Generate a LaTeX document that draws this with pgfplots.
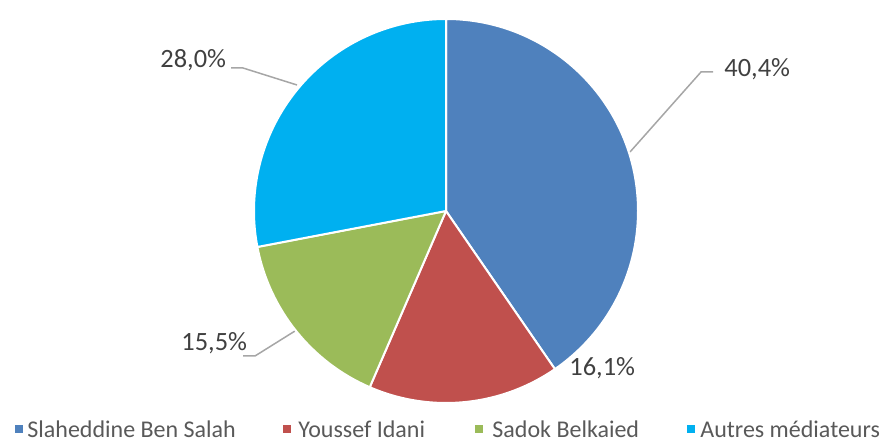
\documentclass[border=0pt]{standalone}
\usepackage{pgfplots}
\usepackage{pgfplotstable}
\pgfplotsset{compat=1.18}
\usepackage{fontspec}
\setmainfont{Carlito}
\definecolor{PBlue}{HTML}{4F81BD}
\definecolor{PRed}{HTML}{C0504D}
\definecolor{PGreen}{HTML}{9BBB59}
\definecolor{PCyan}{HTML}{00B0F0}
\definecolor{LabelInk}{HTML}{404040}
\definecolor{LegendInk}{HTML}{595959}
\definecolor{Leader}{HTML}{A6A6A6}

\pgfplotstableread{
label value color
{Slaheddine Ben Salah} 40.4 PBlue
{Youssef Idani} 16.1 PRed
{Sadok Belkaied} 15.5 PGreen
{Autres médiateurs} 28.0 PCyan
}\piedata

\begin{document}
\begin{tikzpicture}
% 1 axis unit = 1 px of the reference = 0.5pt
\begin{axis}[width=442pt,height=219.5pt,scale only axis,hide axis,clip=false,
  xmin=0,xmax=884,ymin=0,ymax=439]
\path (axis cs:0,-4) rectangle (axis cs:884,439);
\coordinate (C) at (axis cs:446,228);
% leader lines
\draw[Leader,line width=0.75pt] (axis cs:630,287) -- (axis cs:701,367) -- (axis cs:713,367);
\draw[Leader,line width=0.75pt] (axis cs:231,371) -- (axis cs:243,371) -- (axis cs:297,354);
\draw[Leader,line width=0.75pt] (axis cs:243,83) -- (axis cs:255,83) -- (axis cs:295,108);
% data labels
\node[anchor=base west,inner sep=0pt,text=LabelInk,font=\fontsize{13.2pt}{15pt}\selectfont] at (axis cs:724,362) {40,4\%};
\node[anchor=base west,inner sep=0pt,text=LabelInk,font=\fontsize{13.2pt}{15pt}\selectfont] at (axis cs:160,371) {28,0\%};
\node[anchor=base west,inner sep=0pt,text=LabelInk,font=\fontsize{13.2pt}{15pt}\selectfont] at (axis cs:181,88) {15,5\%};
\node[anchor=base west,inner sep=0pt,text=LabelInk,font=\fontsize{13.2pt}{15pt}\selectfont] at (axis cs:569,63) {16,1\%};
% legend
\fill[PBlue] (axis cs:15,6) rectangle (axis cs:23,14);
\node[anchor=base west,inner sep=0pt,text=LegendInk,font=\fontsize{12pt}{14pt}\selectfont] at (axis cs:27,1.5) {Slaheddine Ben Salah};
\fill[PRed] (axis cs:283,6) rectangle (axis cs:291,14);
\node[anchor=base west,inner sep=0pt,text=LegendInk,font=\fontsize{12pt}{14pt}\selectfont] at (axis cs:298,1.5) {Youssef Idani};
\fill[PGreen] (axis cs:475,6) rectangle (axis cs:483,14);
\node[anchor=base west,inner sep=0pt,text=LegendInk,font=\fontsize{12pt}{14pt}\selectfont] at (axis cs:492,1.5) {Sadok Belkaied};
\fill[PCyan] (axis cs:687,6) rectangle (axis cs:695,14);
\node[anchor=base west,inner sep=0pt,text=LegendInk,font=\fontsize{12pt}{14pt}\selectfont] at (axis cs:700,1.5) {Autres médiateurs};
\end{axis}
% pie slices from the table, clockwise from the top
\def\angA{90}
\foreach \i in {0,...,3}{
  \pgfplotstablegetelem{\i}{value}\of\piedata \let\v\pgfplotsretval
  \pgfplotstablegetelem{\i}{color}\of\piedata \let\c\pgfplotsretval
  \pgfmathsetmacro\angB{\angA-3.6*\v}
  \fill[fill=\c,draw=white,line width=1pt,line join=round]
    (C) -- ++(\angA:96pt) arc[start angle=\angA,end angle=\angB,radius=96pt] -- cycle;
  \global\let\angA\angB
}
\end{tikzpicture}
\end{document}
